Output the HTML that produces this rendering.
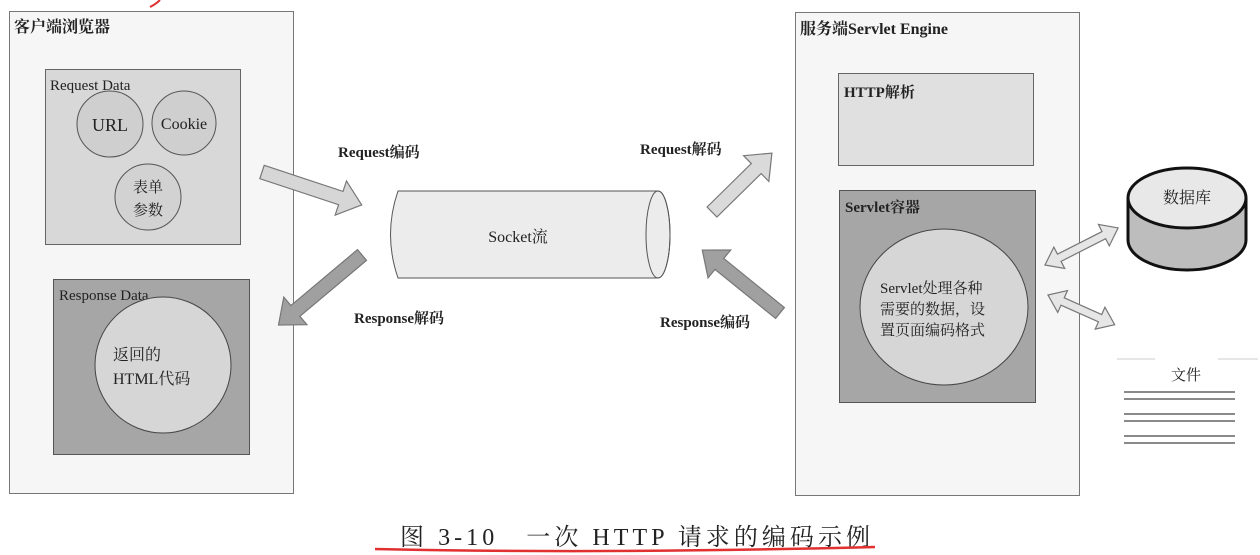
<!DOCTYPE html>
<html><head><meta charset="utf-8"><style>
html,body{margin:0;padding:0;background:#fff;}
svg{display:block;}
text{font-family:"Liberation Serif","Noto Serif CJK SC",serif;fill:#222;}
</style></head><body>
<svg width="1260" height="555" viewBox="0 0 1260 555" xmlns="http://www.w3.org/2000/svg">
<!-- red mark top -->
<path d="M150,7 Q156,4 160,0" stroke="#e03030" stroke-width="2" fill="none"/>
<!-- Left outer -->
<rect x="9.5" y="11.5" width="284" height="482" fill="#f6f6f6" stroke="#777"/>
<text x="14" y="32" font-size="16" font-weight="bold">客户端浏览器</text>
<rect x="45.5" y="69.5" width="195" height="175" fill="#d8d8d8" stroke="#666"/>
<text x="50" y="90" font-size="15">Request Data</text>
<circle cx="110" cy="124" r="33" fill="#cfcfcf" stroke="#555"/>
<text x="110" y="131" font-size="18" text-anchor="middle">URL</text>
<circle cx="184" cy="123" r="32" fill="#cfcfcf" stroke="#555"/>
<text x="184" y="129" font-size="16" text-anchor="middle">Cookie</text>
<circle cx="148" cy="197" r="33" fill="#d2d2d2" stroke="#555"/>
<text x="148" y="192" font-size="15" text-anchor="middle">表单</text>
<text x="148" y="215" font-size="15" text-anchor="middle">参数</text>
<rect x="53.5" y="279.5" width="196" height="175" fill="#a6a6a6" stroke="#555"/>
<text x="59" y="300" font-size="15">Response Data</text>
<circle cx="163" cy="365" r="68" fill="#d6d6d6" stroke="#444"/>
<text x="113" y="360" font-size="16">返回的</text>
<text x="113" y="384" font-size="16">HTML代码</text>

<!-- Socket cylinder -->
<path d="M398,191 L658,191 A12,43.5 0 0 1 658,278 L398,278 Q383,234.5 398,191 Z" fill="#ececec" stroke="#555"/>
<ellipse cx="658" cy="234.5" rx="12" ry="43.5" fill="none" stroke="#555"/>
<text x="518" y="242" font-size="16" text-anchor="middle">Socket流</text>

<!-- Right outer -->
<rect x="795.5" y="12.5" width="284" height="483" fill="#f6f6f6" stroke="#777"/>
<text x="800" y="34" font-size="16" font-weight="bold">服务端Servlet Engine</text>
<rect x="838.5" y="73.5" width="195" height="92" fill="#e0e0e0" stroke="#666"/>
<text x="844" y="97" font-size="15" font-weight="bold">HTTP解析</text>
<rect x="839.5" y="190.5" width="196" height="212" fill="#a6a6a6" stroke="#555"/>
<text x="845" y="212" font-size="15" font-weight="bold">Servlet容器</text>
<ellipse cx="944" cy="307" rx="84" ry="78" fill="#d6d6d6" stroke="#444"/>
<text x="880" y="293" font-size="15">Servlet处理各种</text>
<text x="880" y="314" font-size="15">需要的数据，设</text>
<text x="880" y="335" font-size="15">置页面编码格式</text>

<!-- Arrows -->
<g stroke="#777" stroke-width="1.2">
<polygon fill="#d6d6d6" transform="translate(262,172) rotate(18.3)" points="0,-7 83,-7 83,-18 105,0 83,18 83,7 0,7"/>
<polygon fill="#a0a0a0" transform="translate(362,255) rotate(140)" points="0,-7 87,-7 87,-18 109,0 87,18 87,7 0,7"/>
<polygon fill="#dadada" transform="translate(712,212) rotate(-44.5)" points="0,-7 62,-7 62,-18 84,0 62,18 62,7 0,7"/>
<polygon fill="#a0a0a0" transform="translate(780,313) rotate(219)" points="0,-7 78,-7 78,-18 100,0 78,18 78,7 0,7"/>
<polygon fill="#e6e6e6" transform="translate(1045,265) rotate(-26.9)" points="0,0 16,-12 16,-4 66,-4 66,-12 82,0 66,12 66,4 16,4 16,12"/>
<polygon fill="#e6e6e6" transform="translate(1048,295) rotate(24)" points="0,0 16,-12 16,-4 57,-4 57,-12 73,0 57,12 57,4 16,4 16,12"/>
</g>
<text x="338" y="157" font-size="15" font-weight="bold">Request编码</text>
<text x="354" y="323" font-size="15" font-weight="bold">Response解码</text>
<text x="640" y="154" font-size="15" font-weight="bold">Request解码</text>
<text x="660" y="327" font-size="15" font-weight="bold">Response编码</text>

<!-- Database -->
<path d="M1128,198 L1128,240 A59,30 0 0 0 1246,240 L1246,198" fill="#bdbdbd" stroke="#111" stroke-width="3"/>
<ellipse cx="1187" cy="198" rx="59" ry="30" fill="#e8e8e8" stroke="#111" stroke-width="3"/>
<text x="1187" y="203" font-size="16" text-anchor="middle">数据库</text>

<!-- File -->
<line x1="1117" y1="359" x2="1155" y2="359" stroke="#ccc" stroke-width="1"/>
<line x1="1218" y1="359" x2="1258" y2="359" stroke="#ccc" stroke-width="1"/>
<text x="1186" y="380" font-size="15" text-anchor="middle">文件</text>
<g stroke="#444" stroke-width="1.3">
<line x1="1124" y1="392" x2="1235" y2="392"/><line x1="1124" y1="399" x2="1235" y2="399"/>
<line x1="1124" y1="414" x2="1235" y2="414"/><line x1="1124" y1="421" x2="1235" y2="421"/>
<line x1="1124" y1="436" x2="1235" y2="436"/><line x1="1124" y1="443" x2="1235" y2="443"/>
</g>

<!-- Caption -->
<text x="400" y="545" font-size="24" textLength="470" lengthAdjust="spacing" fill="#111">图 3-10　一次 HTTP 请求的编码示例</text>
<path d="M375,549 Q600,554 875,547" stroke="#e03030" stroke-width="2.5" fill="none"/>
</svg>
</body></html>
